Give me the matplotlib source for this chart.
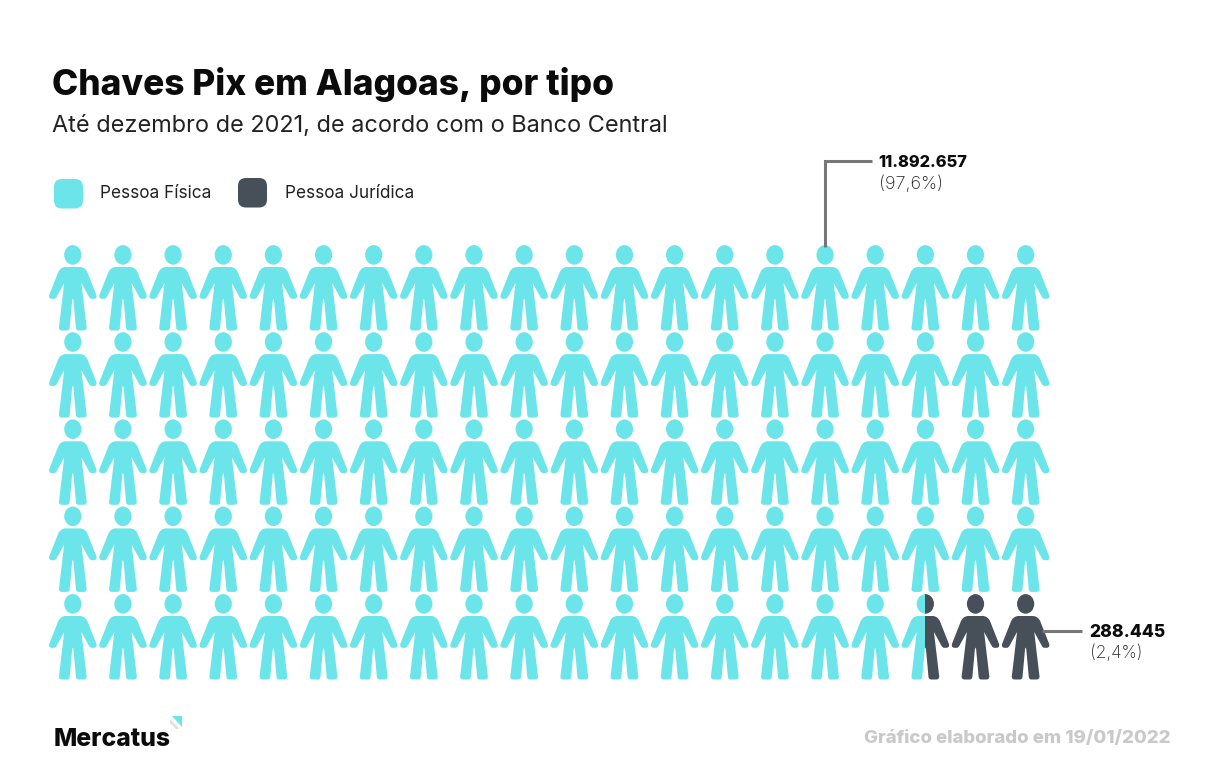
import matplotlib
matplotlib.use('Agg')
import matplotlib.pyplot as plt
from matplotlib.path import Path
from matplotlib.patches import PathPatch, FancyBboxPatch, Polygon, Rectangle
from matplotlib.transforms import Affine2D

# data
title = 'Chaves Pix em Alagoas, por tipo'
subtitle = 'Até dezembro de 2021, de acordo com o Banco Central'
categories = ['Pessoa Física', 'Pessoa Jurídica']
values = ['11.892.657', '288.445']
shares = ['(97,6%)', '(2,4%)']
colors = ['#6be5e9', '#474f58']
n_cols = 20
n_rows = 5
# 100 icons, the 98th is shared between both groups
full_icons_pf = 97
split_icon_pf = 0.5

fig = plt.figure(figsize=(12.06, 7.68), dpi=100)
ax = fig.add_axes([0, 0, 1, 1])
ax.set_xlim(0, 1206)
ax.set_ylim(768, 0)
ax.axis('off')

# person icon, x=0 is the middle, y=0 is the top of the head
# right side as segments, one point = line, three points = curve
start = (0, 21.5)
segments = [
    [(7.0, 21.5)],
    [(10.5, 21.5), (13.0, 23.5), (14.5, 26.5)],
    [(23.2, 48.5)],
    [(24.3, 51.0), (23.7, 53.3), (21.0, 53.3)],
    [(19.0, 53.3)],
    [(17.5, 53.3), (16.8, 52.5), (16.0, 51.0)],
    [(8.6, 37.5)],
    [(13.8, 81.5)],
    [(14.2, 84.0), (12.7, 85.0), (10.7, 85.0)],
    [(6.0, 85.0)],
    [(4.0, 85.0), (3.3, 84.0), (3.1, 82.0)],
    [(0.6, 54.5)],
    [(0, 53.0)],
]
verts = [start]
codes = [Path.MOVETO]
for seg in segments:
    verts += seg
    codes += [Path.LINETO] if len(seg) == 1 else [Path.CURVE4] * 3
# mirror it for the left side, walking back to the start
n_right = len(verts)
for i in range(n_right - 2, -1, -1):
    verts.append((-verts[i][0], verts[i][1]))
    codes.append(codes[i + 1] if codes[i + 1] != Path.MOVETO else Path.LINETO)
verts.append(start)
codes.append(Path.CLOSEPOLY)
body = Path(verts, codes)
head = Path.unit_circle().transformed(Affine2D().scale(8.6, 9.8).translate(0, 9.4))
person = Path.make_compound_path(body, head)


def draw_person(cx, top, color, clip=None):
    patch = PathPatch(person, facecolor=color, edgecolor='none',
                      transform=Affine2D().translate(cx, top) + ax.transData)
    ax.add_patch(patch)
    if clip is not None:
        rect = Rectangle((clip[0], top - 2), clip[1], 90, transform=ax.transData)
        patch.set_clip_path(rect)


col_step = 50.15
row_tops = [245.5, 332.6, 419.8, 506.9, 594.5]
n = 0
for r in range(n_rows):
    for c in range(n_cols):
        cx = 72.8 + c * col_step
        top = row_tops[r]
        if n < full_icons_pf:
            draw_person(cx, top, colors[0])
        elif n == full_icons_pf:
            # half and half icon
            w = 50 * split_icon_pf
            draw_person(cx, top, colors[0], clip=(cx - w, w))
            draw_person(cx, top, colors[1], clip=(cx, w))
        else:
            draw_person(cx, top, colors[1])
        n += 1

# titles
ax.text(52, 84, title, fontsize=25.4, fontweight=800, family='Inter',
        color='#0b0b0b', va='center', ha='left')
ax.text(52, 126, subtitle, fontsize=16.9, family='Inter', color='#222222',
        va='center', ha='left')

# legend
for x, y, col, lab, tx in [(54, 179, colors[0], categories[0], 100),
                           (238, 178, colors[1], categories[1], 285)]:
    ax.add_patch(FancyBboxPatch((x + 7, y + 7), 15, 15.5,
                                boxstyle='round,pad=7,rounding_size=8',
                                facecolor=col, edgecolor='none'))
    ax.text(tx, 193, lab, fontsize=12.4, family='Inter', color='#222222',
            va='center', ha='left')

# callouts
line_col = '#777777'
ax.plot([872, 824.5, 824.5], [161, 161, 247], color=line_col, lw=2.2,
        solid_joinstyle='miter', solid_capstyle='butt')
ax.plot([1042, 1082], [631, 631], color=line_col, lw=2.2,
        solid_capstyle='butt')
ax.text(878.5, 162.5, values[0], fontsize=11.8, fontweight=800, family='Inter',
        color='#0b0b0b', va='center', ha='left')
ax.text(879, 184, shares[0], fontsize=13, family='Inter', fontweight='light',
        color='#222222', va='center', ha='left')
ax.text(1089.5, 632.5, values[1], fontsize=12.6, fontweight=800, family='Inter',
        color='#0b0b0b', va='center', ha='left')
ax.text(1090, 653, shares[1], fontsize=12.4, family='Inter', fontweight='light',
        color='#222222', va='center', ha='left')

# logo and footer
ax.text(54, 739, 'Mercatus', fontsize=17.8, fontweight=800, family='Inter',
        color='#0b0b0b', va='center', ha='left')
ax.add_patch(Polygon([(171.5, 716), (182.3, 716), (182.3, 727)],
                     facecolor=colors[0], edgecolor='none'))
ax.add_patch(Polygon([(170, 719), (179.5, 728.5), (176.5, 729.5), (170, 723)],
                     facecolor='#e2e2e2', edgecolor='none'))
ax.text(1170, 738.5, 'Gráfico elaborado em 19/01/2022', fontsize=13.45,
        fontweight=800, family='Inter', color='#c9c9c9',
        va='center', ha='right')

fig.savefig('out.png', dpi=100, facecolor='white')
